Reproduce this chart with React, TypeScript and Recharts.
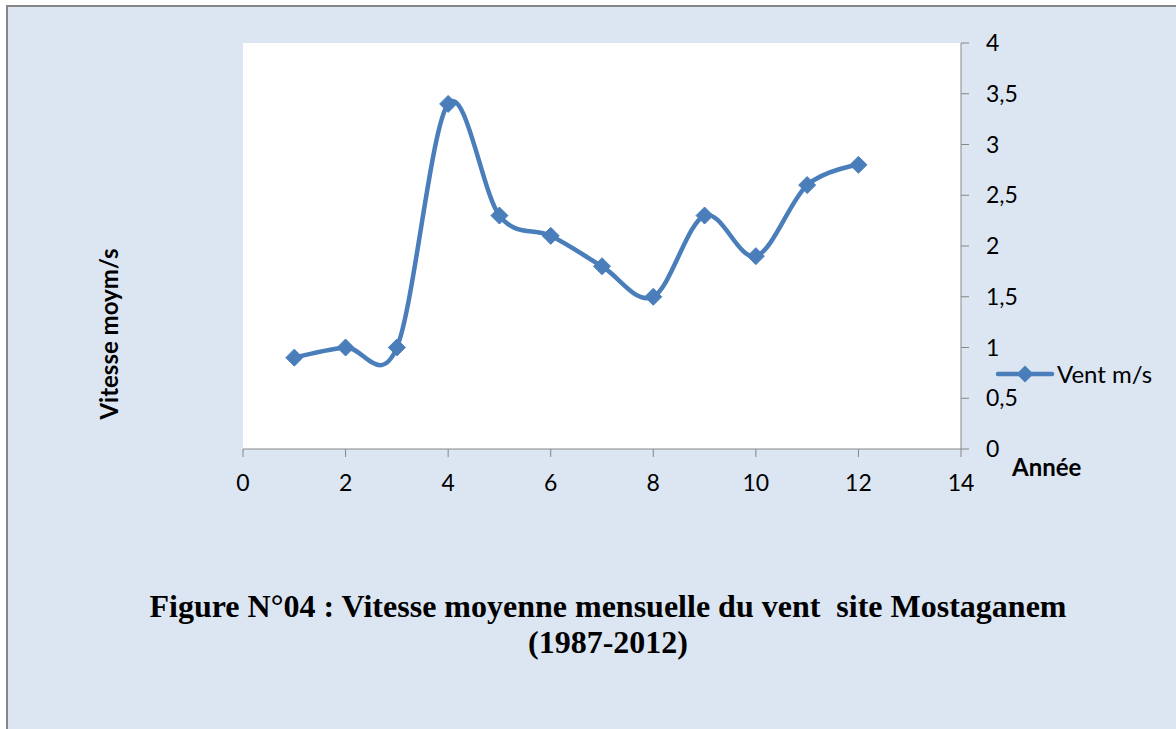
import React from 'react';
import { LineChart, Line, XAxis, YAxis, CartesianGrid, Legend } from 'recharts';

const years = [1, 2, 3, 4, 5, 6, 7, 8, 9, 10, 11, 12];
const vent = [0.9, 1.0, 1.0, 3.4, 2.3, 2.1, 1.8, 1.5, 2.3, 1.9, 2.6, 2.8];
const xTicks = [0, 2, 4, 6, 8, 10, 12, 14];
const yTicks = [0, 0.5, 1, 1.5, 2, 2.5, 3, 3.5, 4];
const seriesName = 'Vent m/s';
const xTitle = 'Année';
const yTitle = 'Vitesse moym/s';
const titleLine1 = 'Figure N°04 : Vitesse moyenne mensuelle du vent  site Mostaganem';
const titleLine2 = '(1987-2012)';

const data = years.map((x, i) => ({ x, v: vent[i] }));

const BLUE = '#4a7ebb';
const AXIS = '#868686';
const BG = '#dce6f2';

// Catmull-Rom style smoothing similar to Excel's smoothed lines
function excelSmooth(context: any) {
  const k = 1 / 6;
  let x0 = NaN, y0 = NaN, x1 = NaN, y1 = NaN, x2 = NaN, y2 = NaN;
  let pt = 0;
  let line = NaN;
  const bez = (x: number, y: number) =>
    context.bezierCurveTo(
      x1 + k * (x2 - x0), y1 + k * (y2 - y0),
      x2 + k * (x1 - x), y2 + k * (y1 - y),
      x2, y2
    );
  return {
    areaStart() { line = 0; },
    areaEnd() { line = NaN; },
    lineStart() { x0 = x1 = x2 = y0 = y1 = y2 = NaN; pt = 0; },
    lineEnd() {
      if (pt === 2) context.lineTo(x2, y2);
      else if (pt === 3) bez(x1, y1);
      if (line || (line !== 0 && pt === 1)) context.closePath();
      line = 1 - line;
    },
    point(x: number, y: number) {
      x = +x; y = +y;
      switch (pt) {
        case 0: pt = 1; if (line) context.lineTo(x, y); else context.moveTo(x, y); break;
        case 1: pt = 2; x1 = x; y1 = y; break;
        case 2: pt = 3; bez(x, y); break;
        default: bez(x, y); break;
      }
      x0 = x1; x1 = x2; x2 = x;
      y0 = y1; y1 = y2; y2 = y;
    },
  };
}

const Diamond = (props: any) => {
  const { cx, cy, index } = props;
  if (cx == null || cy == null) return <g key={`d-${index}`} />;
  const r = 8.5;
  return (
    <polygon
      key={`d-${index}`}
      points={`${cx},${cy - r} ${cx + r},${cy} ${cx},${cy + r} ${cx - r},${cy}`}
      fill={BLUE}
      stroke={BLUE}
      strokeWidth={1}
    />
  );
};

const LegendContent = () => (
  <div style={{ display: 'flex', alignItems: 'center', fontFamily: 'Lato, sans-serif', fontSize: 24, color: '#000' }}>
    <svg width={60} height={20} style={{ display: 'block' }}>
      <line x1={3} y1={10} x2={57} y2={10} stroke={BLUE} strokeWidth={4.5} strokeLinecap="round" />
      <polygon points="30,1.5 38.5,10 30,18.5 21.5,10" fill={BLUE} />
    </svg>
    <span style={{ marginLeft: 2, whiteSpace: 'nowrap' }}>{seriesName}</span>
  </div>
);

const fmt = (v: number) => String(v).replace('.', ',');

export default function App() {
  return (
    <div style={{ position: 'fixed', left: 0, top: 0, width: 1176, height: 729, background: '#fff', overflow: 'hidden' }}>
      <div
        style={{
          position: 'absolute', left: 6, top: 5, width: 1200, height: 760,
          background: BG, borderTop: `2px solid ${AXIS}`, borderLeft: `2px solid ${AXIS}`,
        }}
      />
      <div style={{ position: 'absolute', left: 0, top: 0 }}>
        <LineChart
          width={1176}
          height={729}
          data={data}
          margin={{ top: 43, left: 243, right: 135, bottom: 240 }}
        >
          <CartesianGrid horizontal={false} vertical={false} fill="#ffffff" />
          <XAxis
            dataKey="x"
            type="number"
            domain={[0, 14]}
            ticks={xTicks}
            interval={0}
            height={40}
            stroke={AXIS}
            tickSize={8}
            tickMargin={18}
            tick={{ fill: '#000', fontSize: 23, fontFamily: 'Lato, sans-serif' }}
          />
          <YAxis
            orientation="right"
            type="number"
            domain={[0, 4]}
            ticks={yTicks}
            interval={0}
            width={80}
            stroke={AXIS}
            tickSize={8}
            tickMargin={17}
            tickFormatter={fmt}
            tick={{ fill: '#000', fontSize: 23, fontFamily: 'Lato, sans-serif', textAnchor: 'start' }}
          />
          <Legend
            layout="horizontal"
            verticalAlign="middle"
            align="center"
            content={<LegendContent />}
            wrapperStyle={{ left: 995, top: 359, width: 180 }}
          />
          <Line
            dataKey="v"
            name={seriesName}
            type={excelSmooth as any}
            stroke={BLUE}
            strokeWidth={4.5}
            dot={Diamond}
            activeDot={false}
            isAnimationActive={false}
          />
        </LineChart>
      </div>
      <div
        style={{
          position: 'absolute', left: 1012, top: 452, fontFamily: 'Lato, sans-serif',
          fontWeight: 700, fontSize: 24, color: '#000', whiteSpace: 'nowrap',
        }}
      >
        {xTitle}
      </div>
      <div
        style={{
          position: 'absolute', left: 108, top: 334, transform: 'translate(-50%, -50%) rotate(-90deg)',
          fontFamily: 'Lato, sans-serif', fontWeight: 700, fontSize: 24, color: '#000', whiteSpace: 'nowrap',
        }}
      >
        {yTitle}
      </div>
      <div
        style={{
          position: 'absolute', left: 0, width: 1216, top: 588, textAlign: 'center',
          fontFamily: '"Liberation Serif", "Times New Roman", serif', fontWeight: 700, fontSize: 32,
          lineHeight: '36px', color: '#000', whiteSpace: 'pre',
        }}
      >
        {titleLine1 + '\n' + titleLine2}
      </div>
    </div>
  );
}
